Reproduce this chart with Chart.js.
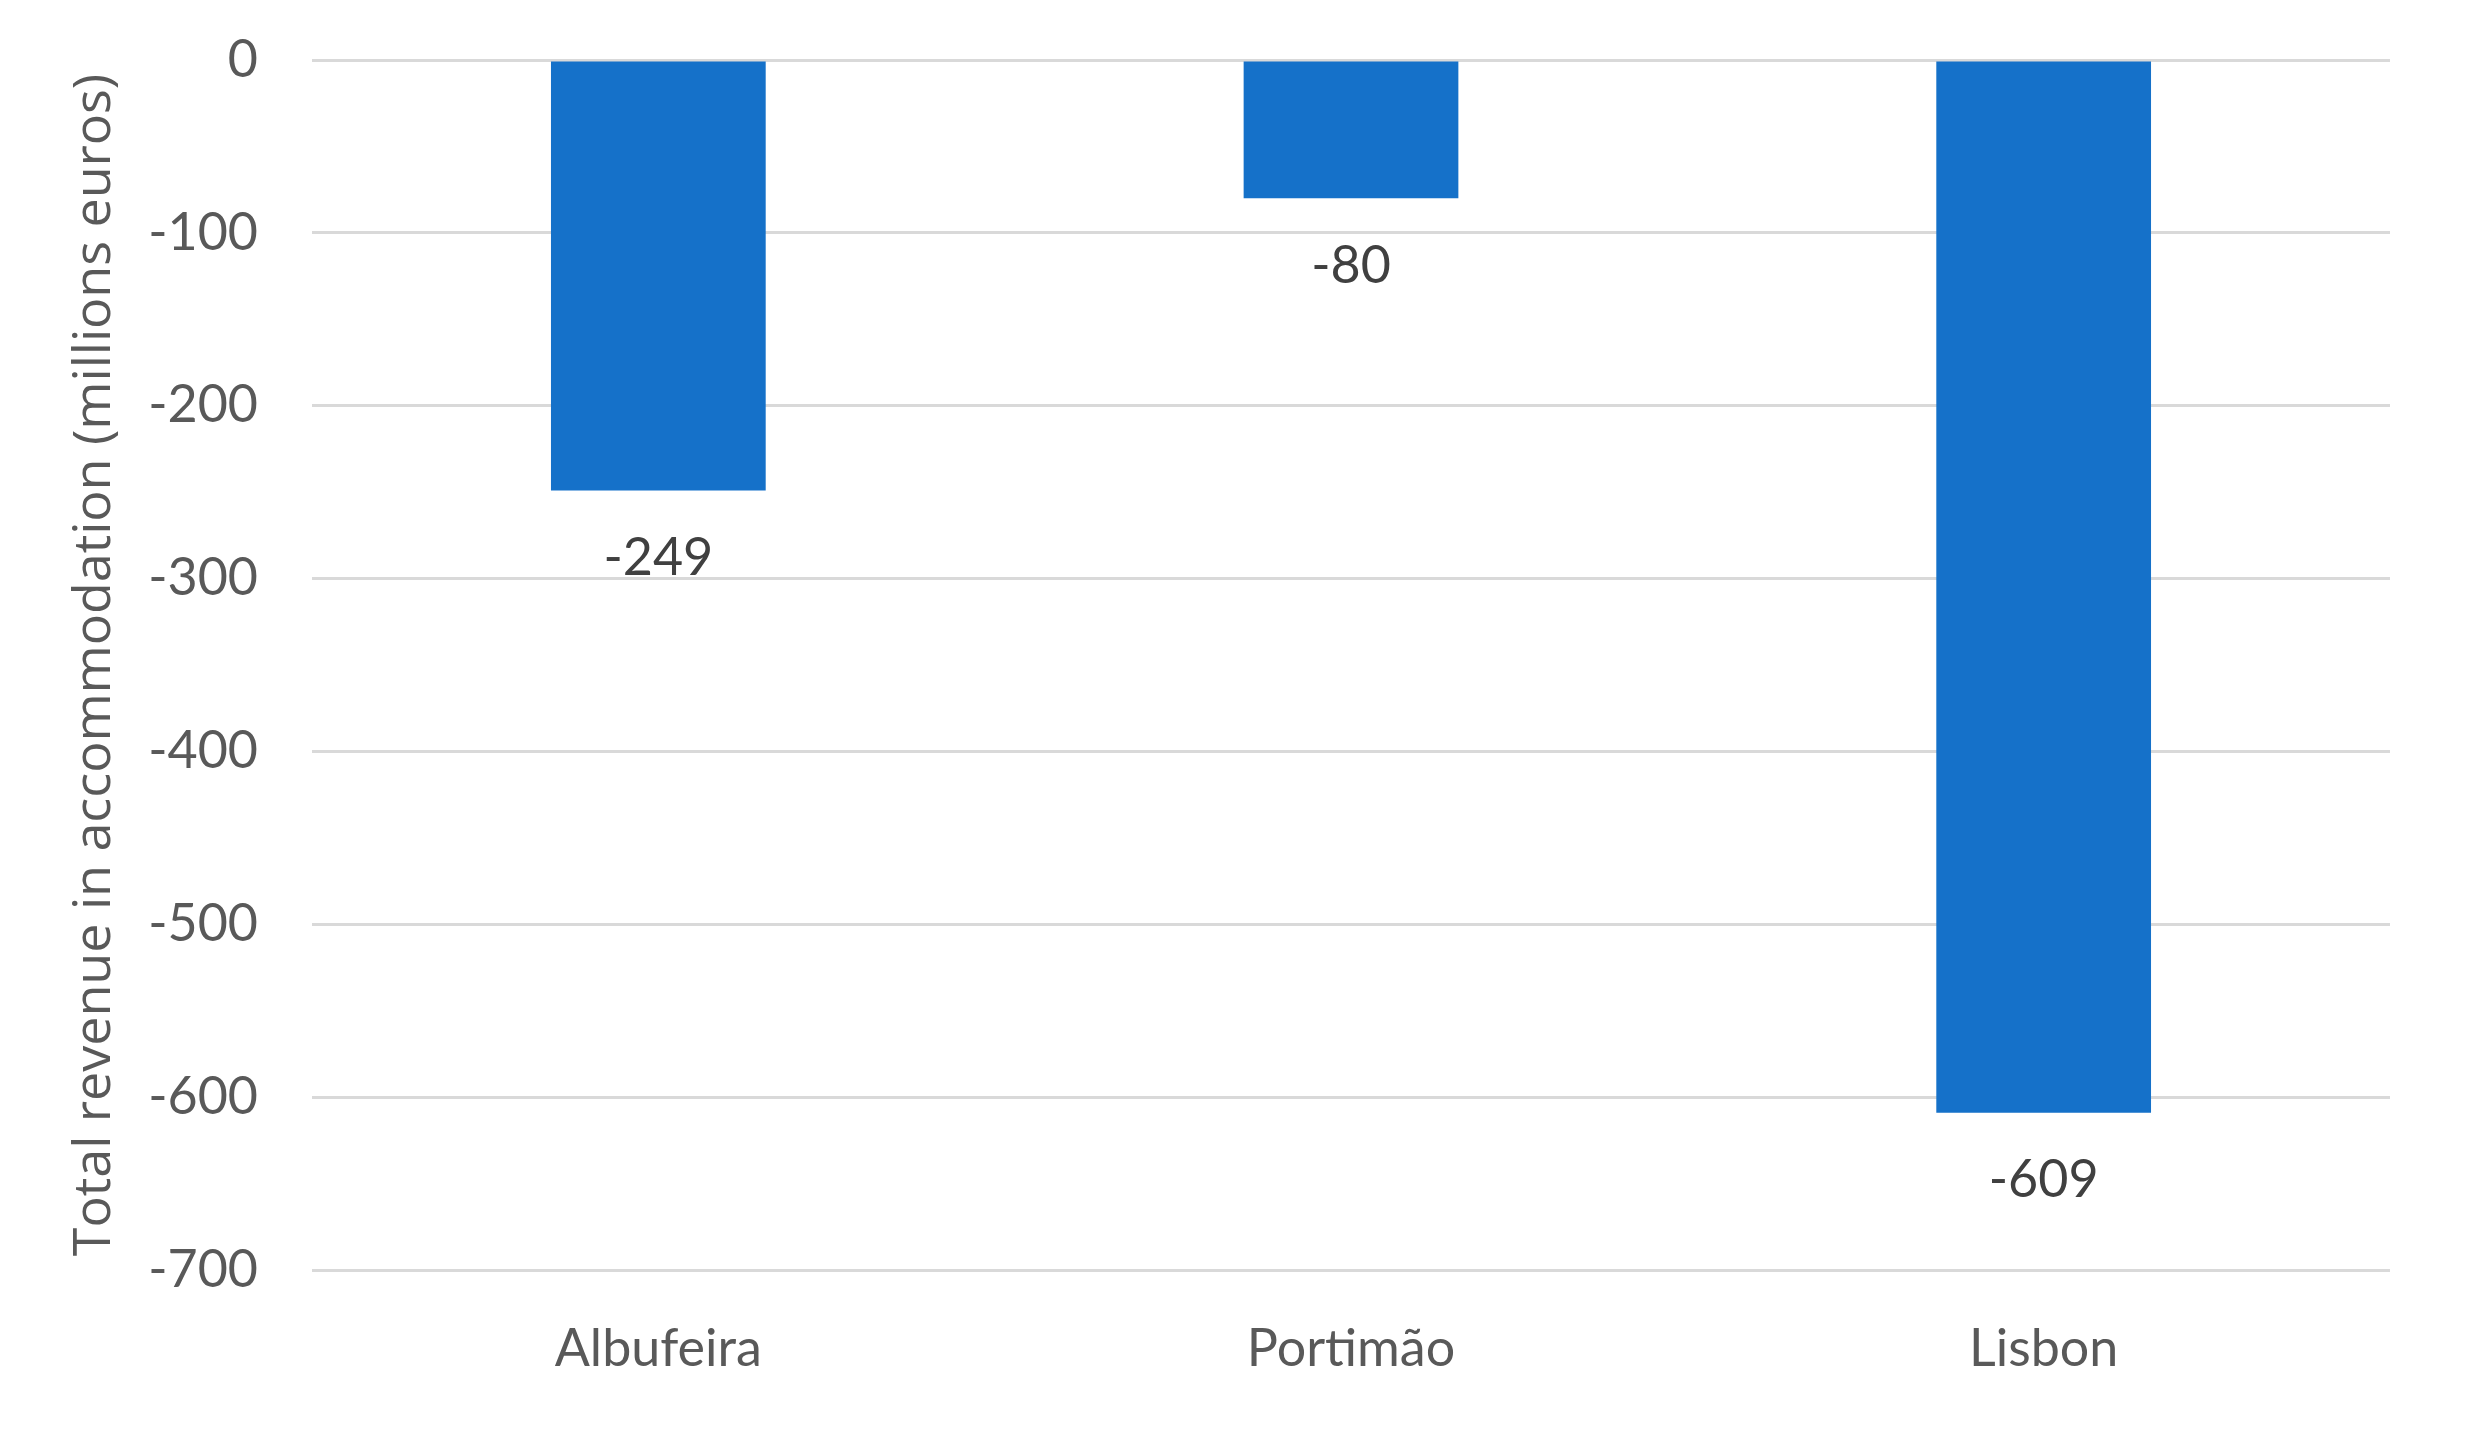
<!DOCTYPE html>
<html>
<head>
<meta charset="utf-8">
<script src="https://cdn.jsdelivr.net/npm/chart.js@4.4.0/dist/chart.umd.min.js"></script>
<style>
  html, body { margin: 0; padding: 0; background: #ffffff; }
  #wrap { width: 2485px; height: 1433px; }
</style>
</head>
<body>
<div id="wrap"><canvas id="myChart" width="2485" height="1433"></canvas></div>
<script>
const categories = ["Albufeira", "Portimão", "Lisbon"];
const revenue = [-249, -80, -609];
const y_ticks = [0, -100, -200, -300, -400, -500, -600, -700];
const y_title = "Total revenue in accommodation (millions euros)";

// value labels under each bar, like the spreadsheet version
const barLabels = {
    id: "barLabels",
    afterDatasetsDraw(chart) {
        let ctx = chart.ctx;
        let meta = chart.getDatasetMeta(0);
        ctx.save();
        ctx.font = "52px Lato";
        ctx.fillStyle = "#404040";
        ctx.textAlign = "center";
        ctx.textBaseline = "middle";
        meta.data.forEach((bar, i) => {
            ctx.fillText(String(revenue[i]), bar.x, bar.y + 68);
        });
        ctx.restore();
    }
};

const ctx = document.getElementById("myChart");
const config = {
    type: "bar",
    data: {
        labels: categories,
        datasets: [
            {
                label: "revenue",
                data: revenue,
                backgroundColor: "#1571C9",
                borderWidth: 0,
                barPercentage: 1,
                categoryPercentage: 0.31,
            }
        ]
    },
    options: {
        responsive: false,
        animation: false,
        layout: {
            padding: { left: 0, right: 95, top: 60, bottom: 0 }
        },
        plugins: {
            legend: { display: false },
            tooltip: { enabled: false },
        },
        scales: {
            x: {
                grid: { display: false, drawTicks: false },
                border: { display: false },
                ticks: {
                    padding: 48,
                    color: "#595959",
                    font: { family: "Lato", size: 52 },
                },
                afterFit(scale) { scale.height = 163; },
            },
            y: {
                min: -700,
                max: 0,
                afterBuildTicks(scale) {
                    scale.ticks = y_ticks.map(v => ({ value: v }));
                },
                grid: { color: "#D9D9D9", lineWidth: 3, drawTicks: false },
                border: { display: false },
                ticks: {
                    padding: 54,
                    color: "#595959",
                    font: { family: "Lato", size: 52 },
                },
                title: {
                    display: true,
                    text: y_title,
                    color: "#595959",
                    font: { family: "Open Sans", size: 52 },
                    padding: { top: 64, bottom: 0 },
                },
                afterFit(scale) {
                    scale.width = 312;
                    // tick padding would otherwise push the plot top down
                    scale.paddingTop = 0;
                    scale.paddingBottom = 0;
                },
            }
        }
    },
    plugins: [barLabels],
};
let chart = new Chart(ctx, config);
</script>
</body>
</html>
